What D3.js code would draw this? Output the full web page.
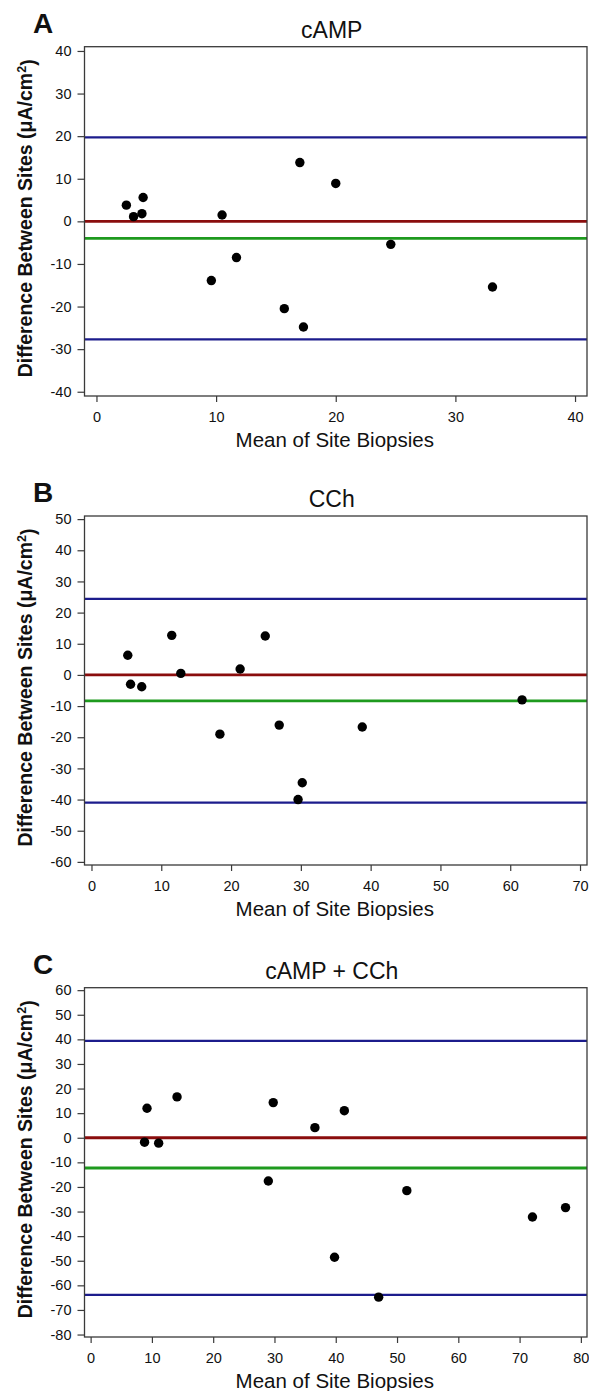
<!DOCTYPE html>
<html>
<head>
<meta charset="utf-8">
<script src="https://cdn.jsdelivr.net/npm/d3@7"></script>
<style>
  html, body { margin: 0; padding: 0; background: #fff; }
  svg { display: block; font-family: "Liberation Sans", Arial, sans-serif; }
</style>
</head>
<body>
<svg id="chart" width="589" height="1391"></svg>
<script>
// ---- Data ----
const panelLetters = ["A", "B", "C"];
const panelTitles = ["cAMP", "CCh", "cAMP + CCh"];

const xTicksA = [0, 10, 20, 30, 40];
const yTicksA = [-40, -30, -20, -10, 0, 10, 20, 30, 40];
const meanA = [2.5, 3.1, 3.9, 3.8, 10.5, 11.7, 17.0, 20.0, 24.6, 9.6, 15.7, 17.3, 33.1];
const diffA = [3.8, 1.1, 5.6, 1.8, 1.5, -8.5, 13.8, 8.9, -5.4, -13.9, -20.5, -24.8, -15.4];
const biasA = -4.0, upperA = 19.7, lowerA = -27.7;

const xTicksB = [0, 10, 20, 30, 40, 50, 60, 70];
const yTicksB = [-60, -50, -40, -30, -20, -10, 0, 10, 20, 30, 40, 50];
const meanB = [5.2, 5.6, 7.2, 11.5, 12.8, 18.4, 21.3, 24.9, 26.9, 38.8, 61.7, 30.2, 29.6];
const diffB = [6.3, -3.0, -3.8, 12.7, 0.5, -19.0, 1.9, 12.5, -16.1, -16.7, -8.0, -34.6, -40.0];
const biasB = -8.3, upperB = 24.4, lowerB = -41.0;

const xTicksC = [0, 10, 20, 30, 40, 50, 60, 70, 80];
const yTicksC = [-80, -70, -60, -50, -40, -30, -20, -10, 0, 10, 20, 30, 40, 50, 60];
const meanC = [9.2, 8.8, 11.1, 14.1, 29.0, 29.8, 36.6, 41.4, 51.6, 72.1, 77.5, 39.8, 47.0];
const diffC = [12.0, -1.8, -2.2, 16.6, -17.6, 14.3, 4.1, 11.0, -21.5, -32.2, -28.4, -48.6, -64.8];
const biasC = -12.3, upperC = 39.4, lowerC = -63.9;

const xDomains = [[-1, 41], [-1, 71], [-1, 81]];
const yDomains = [[-41, 41], [-61, 51], [-81, 61]];

const xTitle = "Mean of Site Biopsies";

// ---- Layout ----
const svg = d3.select("#chart");
const frameLeft = 84.5, frameRight = 587;
const frames = [
  { top: 46.7, bottom: 396 },
  { top: 516, bottom: 865 },
  { top: 987.7, bottom: 1337 }
];

const panels = [
  { xt: xTicksA, yt: yTicksA, mx: meanA, dy: diffA, bias: biasA, up: upperA, lo: lowerA },
  { xt: xTicksB, yt: yTicksB, mx: meanB, dy: diffB, bias: biasB, up: upperB, lo: lowerB },
  { xt: xTicksC, yt: yTicksC, mx: meanC, dy: diffC, bias: biasC, up: upperC, lo: lowerC }
];

const fmt = d => String(d);

panels.forEach((p, i) => {
  const f = frames[i];
  const x = d3.scaleLinear().domain(xDomains[i]).range([frameLeft, frameRight]);
  const y = d3.scaleLinear().domain(yDomains[i]).range([f.bottom, f.top]);
  const g = svg.append("g");

  // Reference lines
  const refs = [
    { v: p.up, c: "#1c1c8c", w: 2.2 },
    { v: p.lo, c: "#1c1c8c", w: 2.2 },
    { v: 0, c: "#8a0d0d", w: 2.8 },
    { v: p.bias, c: "#1e9a1e", w: 2.8 }
  ];
  g.selectAll("line.ref").data(refs).enter().append("line")
    .attr("x1", frameLeft).attr("x2", frameRight)
    .attr("y1", d => y(d.v)).attr("y2", d => y(d.v))
    .attr("stroke", d => d.c).attr("stroke-width", d => d.w);

  // Points
  g.selectAll("circle").data(p.mx.map((m, k) => [m, p.dy[k]])).enter().append("circle")
    .attr("cx", d => x(d[0])).attr("cy", d => y(d[1]))
    .attr("r", 4.7).attr("fill", "#000");

  // Frame
  g.append("rect")
    .attr("x", frameLeft).attr("y", f.top)
    .attr("width", frameRight - frameLeft).attr("height", f.bottom - f.top)
    .attr("fill", "none").attr("stroke", "#3a3a3a").attr("stroke-width", 1.3);

  // Axes
  const xa = g.append("g").attr("transform", `translate(0,${f.bottom})`)
    .call(d3.axisBottom(x).tickValues(p.xt).tickSize(6).tickPadding(10).tickFormat(fmt));
  const ya = g.append("g").attr("transform", `translate(${frameLeft},0)`)
    .call(d3.axisLeft(y).tickValues(p.yt).tickSize(7).tickPadding(6).tickFormat(fmt));
  [xa, ya].forEach(a => {
    a.attr("font-size", null).attr("font-family", null);
    a.select(".domain").remove();
    a.selectAll(".tick line").attr("stroke", "#3a3a3a").attr("stroke-width", 1.2);
    a.selectAll(".tick text").attr("fill", "#111")
      .attr("font-size", 14.5).attr("font-family", "'Liberation Sans', Arial, sans-serif");
  });

  // Title
  g.append("text")
    .attr("x", (frameLeft + frameRight) / 2 - 4).attr("y", f.top - 9)
    .attr("text-anchor", "middle").attr("font-size", 23).attr("fill", "#111")
    .text(panelTitles[i]);

  // Panel letter
  g.append("text")
    .attr("x", 33).attr("y", f.top - 14)
    .attr("font-size", 28).attr("font-weight", "bold").attr("fill", "#111")
    .text(panelLetters[i]);

  // X title
  g.append("text")
    .attr("x", (frameLeft + frameRight) / 2 - 1).attr("y", f.bottom + 51)
    .attr("text-anchor", "middle").attr("font-size", 20.5).attr("fill", "#111")
    .text(xTitle);

  // Y title
  const yt = g.append("text")
    .attr("transform", `translate(32,${(f.top + f.bottom) / 2 - 3}) rotate(-90)`)
    .attr("text-anchor", "middle").attr("font-size", 19.5).attr("font-weight", "bold").attr("fill", "#111");
  yt.append("tspan").text("Difference Between Sites (μA/cm");
  yt.append("tspan").attr("dy", "-0.45em").attr("font-size", 12.5).text("2");
  yt.append("tspan").attr("dy", "0.45em").text(")");
});
</script>
</body>
</html>
